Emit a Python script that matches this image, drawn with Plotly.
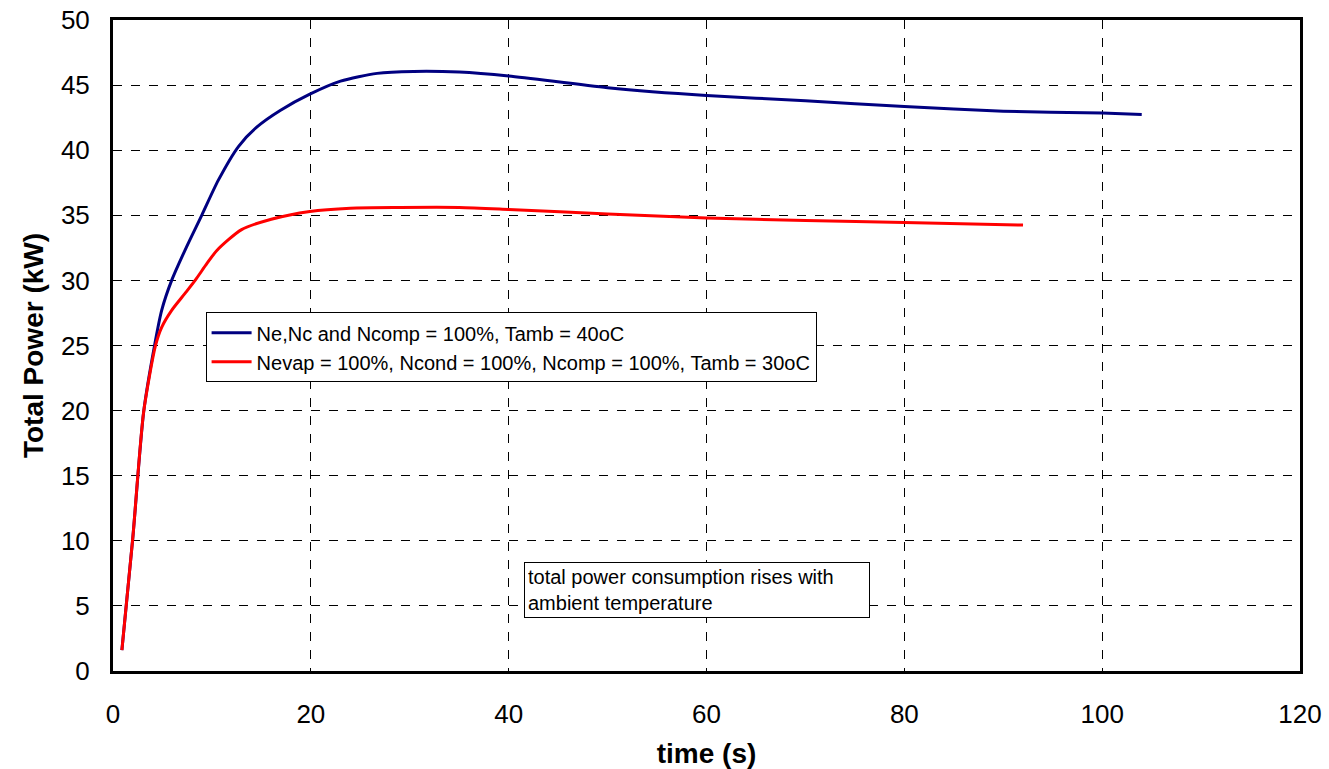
import plotly.graph_objects as go

t_blue = [0.9, 2.0, 3.1, 4.2, 4.92, 5.93, 7.45, 8.97, 10.65, 12.7, 14.5, 16.9, 19.9, 23.0, 26.7, 30.4, 35, 40, 50, 60, 70, 80, 90, 100, 104]
p_blue = [1.6, 10.2, 19.9, 25.0, 27.7, 30.0, 32.6, 35.0, 37.7, 40.3, 41.75, 43.05, 44.3, 45.3, 45.9, 46.05, 46.0, 45.7, 44.8, 44.2, 43.8, 43.35, 43.0, 42.85, 42.75]

t_red = [0.9, 2.0, 3.1, 4.3, 4.92, 5.93, 7.28, 8.3, 9.5, 10.5, 13.0, 16.0, 19.9, 24.0, 29.0, 35, 40, 50, 60, 70, 80, 92]
p_red = [1.6, 10.2, 19.9, 25.0, 26.4, 27.7, 29.0, 30.0, 31.3, 32.3, 33.9, 34.7, 35.3, 35.55, 35.6, 35.6, 35.45, 35.1, 34.8, 34.6, 34.45, 34.25]

name_blue = "Ne,Nc and Ncomp = 100%, Tamb = 40oC"
name_red = "Nevap = 100%, Ncond = 100%, Ncomp = 100%, Tamb = 30oC"
note = "total power consumption rises with<br>ambient temperature"

FONT = "Arial, Liberation Sans, sans-serif"

fig = go.Figure()
fig.add_trace(go.Scatter(x=t_blue, y=p_blue, mode="lines", name=name_blue,
                         line=dict(color="#000080", width=3, shape="spline", smoothing=0.7)))
fig.add_trace(go.Scatter(x=t_red, y=p_red, mode="lines", name=name_red,
                         line=dict(color="#FF0000", width=3, shape="spline", smoothing=0.7)))

fig.update_layout(
    width=1329, height=769,
    margin=dict(l=113, r=29, t=20, b=98),
    paper_bgcolor="white", plot_bgcolor="white",
    font=dict(family=FONT, color="black", size=26),
    showlegend=True,
    legend=dict(x=0.078, y=0.551, xanchor="left", yanchor="top",
                bgcolor="white", bordercolor="black", borderwidth=1,
                font=dict(size=20, family=FONT), tracegroupgap=0,
                itemwidth=40),
    xaxis=dict(range=[0, 120], dtick=20, showgrid=True, gridcolor="black",
               griddash="dash", gridwidth=1, zeroline=False, automargin=False,
               showline=True, linecolor="black", linewidth=3, mirror=True,
               ticks="", tickfont=dict(size=26), ticklabelstandoff=18,
               title=dict(text="<b>time (s)</b>", font=dict(size=28), standoff=18)),
    yaxis=dict(range=[0, 50], dtick=5, showgrid=True, gridcolor="black",
               griddash="dash", gridwidth=1, zeroline=False, automargin=False,
               showline=True, linecolor="black", linewidth=3, mirror=True,
               ticks="", tickfont=dict(size=26), ticklabelstandoff=15,
               title=dict(text="<b>Total Power (kW)</b>", font=dict(size=28), standoff=10)),
    annotations=[dict(x=41.6, y=8.37, xref="x", yref="y", xanchor="left", yanchor="top",
                      text=note, showarrow=False, align="left",
                      font=dict(size=20, family=FONT),
                      bordercolor="black", borderwidth=1, borderpad=3,
                      bgcolor="white", width=338)],
)

fig.write_html("out.html")
